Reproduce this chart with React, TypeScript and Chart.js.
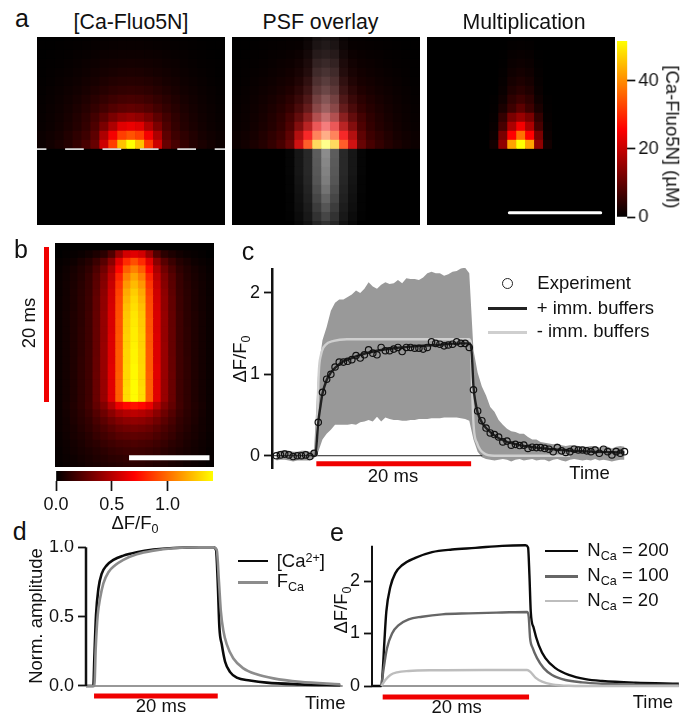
import React, { useEffect, useRef } from "react";
import { Chart, registerables } from "chart.js";

Chart.register(...registerables);
const FONT = '"Liberation Sans", Arial, sans-serif';
Chart.defaults.font.family = FONT;
Chart.defaults.color = "#111";

// ---------- panel a: half rows (centre column first), nearest the membrane line first, in uM
const caHalfRows = [
  [50, 44, 31, 20, 10, 7, 5, 3.5, 2.5, 1.8, 1.2],
  [33, 31, 24, 17, 9, 6, 4.5, 3.2, 2.2, 1.6, 1.1],
  [23, 22, 17, 12, 7.5, 5, 3.5, 2.5, 1.8, 1.2, 0.8],
  [15, 14, 12, 9, 6.5, 4.5, 3.2, 2.3, 1.6, 1.1, 0.7],
  [9.5, 9, 8, 6.5, 5, 3.7, 2.7, 2, 1.4, 1, 0.6],
  [7, 6.7, 6, 5, 4, 3, 2.3, 1.7, 1.2, 0.8, 0.5],
  [5, 4.8, 4.4, 3.7, 3, 2.4, 1.8, 1.4, 1, 0.7, 0.4],
  [3.7, 3.6, 3.3, 2.8, 2.3, 1.9, 1.4, 1.1, 0.8, 0.5, 0.3],
  [2.7, 2.6, 2.4, 2.1, 1.8, 1.4, 1.1, 0.8, 0.6, 0.4, 0.2],
  [2, 1.9, 1.8, 1.6, 1.3, 1.1, 0.8, 0.6, 0.4, 0.3, 0.2],
  [1.3, 1.3, 1.2, 1.1, 0.9, 0.7, 0.6, 0.4, 0.3, 0.2, 0.1],
  [0.9, 0.9, 0.8, 0.7, 0.6, 0.5, 0.4, 0.3, 0.2, 0.1, 0.1],
  [0.5, 0.5, 0.5, 0.4, 0.4, 0.3, 0.2, 0.2, 0.1, 0.1, 0],
];
// PSF grey levels, bottom row of the image first (centre column first)
const psfHalfRows = [
  [50, 38, 18, 8, 0], [70, 50, 24, 11, 2], [85, 60, 28, 14, 3], [100, 70, 32, 16, 3],
  [115, 78, 35, 18, 4], [125, 85, 38, 20, 4], [130, 88, 40, 22, 5], [135, 90, 40, 22, 5],
  [140, 92, 40, 22, 5], [140, 95, 42, 18, 4], [135, 92, 40, 16, 3], [125, 88, 36, 14, 2],
  [110, 80, 32, 12, 2], [95, 72, 28, 10, 1], [85, 65, 24, 8, 1], [70, 56, 20, 6, 0],
  [60, 48, 16, 4, 0], [50, 42, 12, 3, 0], [40, 34, 10, 2, 0], [30, 26, 8, 1, 0],
  [25, 20, 6, 0, 0], [20, 16, 4, 0, 0],
];
const multHalfRows = [
  [50, 41, 14, 1.8], [36, 25, 12, 1.2], [24, 17, 7, 0.8], [15, 12, 5, 0.5],
  [9, 6, 2.5, 0.3], [6, 4.5, 1.5, 0.2], [4, 3, 0.9], [2.8, 2.2, 0.6],
  [2, 1.5, 0.4], [1.3, 1, 0.2], [0.8, 0.6, 0.1], [0.4, 0.3],
  [0.2, 0.1],
];
const caMax = 50;
const caBarMax = 51.7;
const caTicks = [0, 20, 40];
const dashX = [0, 21];
const dashY = [9, 9];
const scaleBarAX = [9.2, 19.4];
const scaleBarAY = [1.96, 1.96];

// ---------- panel b: time rows from top, half rows (centre first), in dF/F0
const bHalfRows = [
  [0, 0, 0, 0, 0, 0, 0, 0, 0, 0, 0],
  [0.62, 0.58, 0.42, 0.22, 0.12, 0.08, 0.05, 0.03, 0.02, 0.01, 0],
  [0.92, 0.82, 0.62, 0.38, 0.24, 0.16, 0.1, 0.07, 0.04, 0.025, 0.015],
  [1.06, 0.96, 0.72, 0.47, 0.31, 0.21, 0.13, 0.09, 0.06, 0.04, 0.02],
  [1.16, 1.05, 0.8, 0.52, 0.35, 0.24, 0.15, 0.1, 0.07, 0.045, 0.025],
  [1.22, 1.12, 0.85, 0.55, 0.37, 0.25, 0.155, 0.11, 0.075, 0.05, 0.027],
  [1.27, 1.17, 0.88, 0.57, 0.39, 0.26, 0.16, 0.115, 0.08, 0.05, 0.028],
  [1.3, 1.2, 0.9, 0.58, 0.4, 0.27, 0.165, 0.12, 0.08, 0.052, 0.03],
  [1.32, 1.23, 0.91, 0.59, 0.4, 0.27, 0.165, 0.12, 0.08, 0.052, 0.03],
  [1.34, 1.25, 0.92, 0.6, 0.41, 0.275, 0.17, 0.12, 0.085, 0.055, 0.03],
  [1.35, 1.26, 0.93, 0.6, 0.41, 0.275, 0.17, 0.12, 0.085, 0.055, 0.03],
  [1.36, 1.27, 0.93, 0.6, 0.41, 0.28, 0.17, 0.125, 0.085, 0.055, 0.03],
  [1.36, 1.28, 0.94, 0.61, 0.41, 0.28, 0.17, 0.125, 0.085, 0.055, 0.03],
  [1.37, 1.28, 0.94, 0.61, 0.42, 0.28, 0.17, 0.125, 0.085, 0.055, 0.03],
  [1.38, 1.29, 0.95, 0.61, 0.42, 0.28, 0.175, 0.125, 0.085, 0.055, 0.03],
  [1.38, 1.29, 0.95, 0.61, 0.42, 0.285, 0.175, 0.13, 0.085, 0.055, 0.03],
  [1.39, 1.3, 0.95, 0.62, 0.42, 0.285, 0.175, 0.13, 0.085, 0.055, 0.03],
  [1.39, 1.3, 0.96, 0.62, 0.42, 0.29, 0.175, 0.13, 0.085, 0.055, 0.03],
  [1.4, 1.3, 0.96, 0.62, 0.42, 0.29, 0.175, 0.13, 0.085, 0.055, 0.03],
  [1.4, 1.31, 0.96, 0.62, 0.42, 0.29, 0.175, 0.13, 0.085, 0.055, 0.03],
  [1.4, 1.31, 0.96, 0.62, 0.42, 0.29, 0.175, 0.13, 0.085, 0.055, 0.03],
  [0.75, 0.72, 0.65, 0.5, 0.36, 0.27, 0.18, 0.13, 0.09, 0.06, 0.03],
  [0.52, 0.5, 0.46, 0.38, 0.3, 0.23, 0.16, 0.12, 0.085, 0.055, 0.03],
  [0.4, 0.39, 0.36, 0.31, 0.25, 0.2, 0.14, 0.11, 0.08, 0.05, 0.03],
  [0.32, 0.31, 0.29, 0.25, 0.21, 0.17, 0.13, 0.1, 0.07, 0.05, 0.03],
  [0.26, 0.25, 0.24, 0.21, 0.18, 0.15, 0.11, 0.085, 0.065, 0.045, 0.025],
  [0.21, 0.2, 0.19, 0.17, 0.15, 0.12, 0.1, 0.075, 0.055, 0.04, 0.025],
  [0.17, 0.165, 0.155, 0.14, 0.12, 0.1, 0.08, 0.065, 0.05, 0.035, 0.02],
  [0.14, 0.135, 0.125, 0.115, 0.1, 0.085, 0.07, 0.055, 0.04, 0.03, 0.02],
  [0.12, 0.115, 0.105, 0.095, 0.085, 0.07, 0.06, 0.045, 0.035, 0.025, 0.015],
];
const bMax = 1.407;
const bTicks = [0, 0.5, 1];
const scaleBarBX = [9.78, 20.4];
const scaleBarBY = [1.67, 1.67];

// ---------- panel c: sample index, experiment mean and band
const expMean = [
  0, 0.01, 0.02, 0.01, -0.01, 0, 0, 0.01, -0.01, 0.03, 0.41, 0.78, 0.94, 1.0, 1.09, 1.15, 1.15, 1.16, 1.18, 1.23,
  1.2, 1.24, 1.3, 1.26, 1.24, 1.33, 1.29, 1.29, 1.31, 1.33, 1.28, 1.33, 1.33, 1.32, 1.32, 1.31, 1.33, 1.4, 1.38, 1.37,
  1.35, 1.36, 1.37, 1.4, 1.38, 1.38, 1.33, 0.81, 0.55, 0.43, 0.34, 0.28, 0.26, 0.23, 0.17, 0.18, 0.13, 0.14, 0.125, 0.13,
  0.09, 0.105, 0.1, 0.1, 0.09, 0.08, 0.05, 0.1, 0.06, 0.04, 0.05, 0.08, 0.07, 0.07, 0.06, 0.05, 0.07, 0.03, 0.08, 0.05,
  0.01, 0.05, 0.03, 0.05,
];
const expUpper = [
  0.05, 0.06, 0.07, 0.06, 0.05, 0.05, 0.06, 0.06, 0.05, 0.07, 1.05, 1.42, 1.58, 1.78, 1.88, 1.92, 1.92, 1.95, 1.98, 2.03,
  2.0, 2.05, 2.13, 2.08, 2.05, 2.1, 2.13, 2.11, 2.12, 2.16, 2.12, 2.18, 2.17, 2.17, 2.16, 2.19, 2.24, 2.26, 2.24, 2.24,
  2.21, 2.23, 2.26, 2.27, 2.3, 2.31, 2.24, 1.3, 1.02, 0.85, 0.74, 0.6, 0.54, 0.44, 0.38, 0.33, 0.3, 0.29, 0.27, 0.27,
  0.23, 0.2, 0.2, 0.17, 0.16, 0.15, 0.14, 0.15, 0.13, 0.12, 0.13, 0.13, 0.12, 0.11, 0.11, 0.12, 0.12, 0.1, 0.12, 0.11,
  0.09, 0.11, 0.12, 0.11,
];
const expLower = [
  -0.06, -0.05, -0.05, -0.06, -0.07, -0.06, -0.06, -0.06, -0.06, -0.03, 0.05, 0.2, 0.27, 0.32, 0.38, 0.38, 0.38, 0.38, 0.39, 0.38,
  0.41, 0.42, 0.44, 0.42, 0.48, 0.42, 0.47, 0.45, 0.44, 0.44, 0.43, 0.43, 0.44, 0.44, 0.45, 0.45, 0.45, 0.46, 0.46, 0.46,
  0.47, 0.47, 0.47, 0.47, 0.46, 0.45, 0.43, 0.2, 0.05, -0.02, -0.04, -0.05, -0.06, -0.05, -0.04, -0.05, -0.07, -0.05, -0.04, -0.06,
  -0.05, -0.04, -0.06, -0.05, -0.05, -0.07, -0.05, -0.04, -0.06, -0.07, -0.05, -0.04, -0.05, -0.06, -0.05, -0.06, -0.04, -0.06, -0.05, -0.06,
  -0.07, -0.06, -0.05, -0.05,
];
const immX = [9.4, 10, 10.5, 11, 12, 13, 14, 16, 18, 20, 24, 28, 32, 38, 44, 46.2, 46.6, 47, 47.5, 48, 49, 50, 52, 54, 58, 62, 68, 75, 83];
const immY = [0, 0.41, 0.6, 0.76, 0.93, 1.02, 1.08, 1.16, 1.2, 1.24, 1.29, 1.32, 1.34, 1.36, 1.38, 1.38, 1.25, 0.85, 0.65, 0.53, 0.41, 0.34, 0.25, 0.19, 0.13, 0.1, 0.07, 0.05, 0.04];
const noImmX = [9.54, 10.1, 10.65, 11.7, 13.7, 16.85, 45.9, 46.4, 46.7, 47.05, 47.9, 49.5, 51.9, 60, 70];
const noImmY = [0, 1.0, 1.24, 1.36, 1.41, 1.43, 1.43, 1.38, 0.8, 0.36, 0.15, 0.03, 0, 0, 0];
const cTicks = [0, 1, 2];
const cStimX = [9.54, 46.44];
const cStimY = [-0.098, -0.098];
const cZeroX = [-1.03, 49.1];
const cZeroY = [0, 0];

// ---------- panel d: time in ms
const caTimeD = [-1.3, -0.11, 0.05, 0.32, 0.7, 1.24, 2.05, 3.13, 4.74, 6.9, 9.6, 12.83, 17.14, 19.3, 19.73, 20.0, 20.27, 20.65, 21.19, 22.0, 23.07, 25.2, 27.9, 33.3, 39.8];
const caValD = [0, 0, 0.2, 0.51, 0.7, 0.81, 0.87, 0.91, 0.94, 0.964, 0.983, 0.995, 1, 1, 0.98, 0.75, 0.42, 0.3, 0.175, 0.1, 0.06, 0.04, 0.024, 0.012, 0.005];
const fTimeD = [-1.3, 0.05, 0.27, 0.59, 0.97, 1.51, 2.32, 3.4, 4.74, 6.9, 9.6, 12.83, 17.14, 19.3, 19.84, 20.2, 20.5, 20.9, 21.46, 22.5, 24.15, 26.3, 29, 33.3, 39.8];
const fValD = [0, 0, 0.27, 0.51, 0.63, 0.74, 0.82, 0.87, 0.91, 0.95, 0.976, 0.993, 1, 1, 0.98, 0.75, 0.54, 0.4, 0.3, 0.2, 0.127, 0.084, 0.055, 0.03, 0.012];
const dTicks = [0, 0.5, 1];
const dStimX = [0, 20];
const dStimY = [-0.0721, -0.0721];

// ---------- panel e: time in ms
const n200T = [-1.46, -0.18, 0, 0.23, 0.5, 1.05, 1.73, 2.64, 4.46, 6.74, 9.48, 12.66, 16.31, 19.5, 19.86, 20.05, 20.23, 20.64, 21.32, 22.23, 23.6, 25.42, 27.7, 29.98, 34.53, 40.46];
const n200V = [0, 0, 0.27, 0.84, 1.42, 1.89, 2.15, 2.3, 2.44, 2.55, 2.6, 2.63, 2.67, 2.68, 2.64, 2.11, 1.42, 1.1, 0.78, 0.53, 0.34, 0.21, 0.13, 0.095, 0.063, 0.044];
const n100T = [-0.18, 0.14, 0.59, 1.28, 2.19, 3.55, 5.38, 8.11, 11.75, 16.31, 19.73, 19.95, 20.14, 20.5, 21.09, 22, 23.14, 24.97, 27.24, 29.98, 34.53, 40.46];
const n100V = [0, 0.34, 0.72, 1.0, 1.16, 1.27, 1.32, 1.365, 1.384, 1.4, 1.41, 1.32, 0.91, 0.72, 0.53, 0.34, 0.21, 0.114, 0.07, 0.044, 0.025, 0.019];
const n20T = [-0.18, 0.36, 1.05, 1.96, 3.55, 7.2, 14.03, 19.73, 20.18, 20.87, 21.78, 23.14, 25.42, 29.98, 40.46];
const n20V = [0, 0.114, 0.21, 0.26, 0.286, 0.3, 0.305, 0.305, 0.27, 0.16, 0.083, 0.032, 0.006, 0, 0];
const eTicks = [0, 1, 2];
const eStimX = [0, 20];
const eStimY = [-0.2095, -0.2095];

// ---------- helpers
const RED = "#f00000";
const mirror = (half: number[], n = 21) => {
  const full = [...half];
  while (full.length < 11) full.push(0);
  return [...full.slice(1).reverse(), ...full].slice(0, n);
};
const zip = (xs: number[], ys: number[]) => xs.map((x, i) => ({ x, y: ys[i] }));
const hotRGB = (t: number) => {
  const v = Math.max(0, Math.min(1, t));
  return v < 0.5 ? [510 * v, 0, 0] : [255, 510 * (v - 0.5), 0];
};
const css = (c: number[]) => `rgb(${c.map((v) => Math.round(v)).join(",")})`;
const blank = Array.from({ length: 21 }, () => 0);
const caRows = [...Array(9).fill(blank), ...caHalfRows.map((r) => mirror(r))];
const psfRows = psfHalfRows.map((r) => mirror(r));
const multRows = [...Array(9).fill(blank), ...multHalfRows.map((r) => mirror(r))];

const caColors = caRows.map((r) => r.map((v: number) => css(hotRGB(v / caMax))));
const overlayColors = caRows.map((r, ri) =>
  r.map((v: number, ci: number) => {
    const g = psfRows[ri][ci];
    return css(hotRGB(v / caMax).map((c) => 255 - ((255 - c) * (255 - g)) / 255));
  })
);
const multColors = multRows.map((r) => r.map((v: number) => css(hotRGB(v / caMax))));
const bColors = [...bHalfRows].reverse().map((r) => mirror(r).map((v) => css(hotRGB(v / bMax))));

const basePlugins = { legend: { display: false }, tooltip: { enabled: false } };
const noLabelPadding = (s: any) => {
  s.paddingTop = 0;
  s.paddingBottom = 0;
  s.paddingLeft = 0;
  s.paddingRight = 0;
};

function heatConfig(colors: string[][], yMin: number, yMax: number) {
  const labels = colors[0].map((_, i) => String(i));
  return {
    type: "bar",
    data: {
      labels,
      datasets: colors.map((row) => ({
        data: row.map(() => 1),
        backgroundColor: row,
        borderWidth: 0,
        barPercentage: 1,
        categoryPercentage: 1,
      })),
    },
    options: {
      responsive: false,
      animation: false,
      events: [],
      layout: { padding: 0, autoPadding: false },
      plugins: basePlugins,
      scales: {
        x: { stacked: true, display: false },
        y: { stacked: true, display: false, min: yMin, max: yMax },
      },
    },
  };
}

function overlayConfig(lines: any[], yMin: number, yMax: number) {
  return {
    type: "line",
    data: {
      datasets: lines.map((l) => ({
        data: zip(l.x, l.y),
        borderColor: l.color,
        borderWidth: l.width,
        borderDash: l.dash,
        borderDashOffset: l.offset,
        borderCapStyle: l.cap || "butt",
        pointRadius: 0,
      })),
    },
    options: {
      responsive: false,
      animation: false,
      events: [],
      layout: { padding: 0, autoPadding: false },
      plugins: basePlugins,
      scales: {
        x: { type: "linear", display: false, min: 0, max: 21 },
        y: { type: "linear", display: false, min: yMin, max: yMax },
      },
    },
  };
}

function colorbarConfig(horizontal: boolean, max: number, ticks: number[], fmt: (v: number) => string) {
  const valueScale: any = {
    type: "linear",
    min: 0,
    max,
    position: horizontal ? "bottom" : "right",
    afterBuildTicks: (s: any) => {
      s.ticks = ticks.map((value) => ({ value }));
    },
    afterFit: (s: any) => {
      noLabelPadding(s);
      if (horizontal) s.height = 38;
      else s.width = 50;
    },
    grid: { drawOnChartArea: false, tickLength: horizontal ? 10 : 8, tickColor: "#111", tickWidth: 1.7 },
    border: { display: false },
    ticks: { font: { size: 18 }, color: "#111", padding: 3, maxRotation: 0, callback: (v: any) => fmt(Number(v)) },
  };
  return {
    type: "bar",
    data: {
      labels: [""],
      datasets: [
        {
          data: [max],
          barPercentage: 1,
          categoryPercentage: 1,
          borderWidth: 0,
          backgroundColor: (ctx: any) => {
            const { chart } = ctx;
            const a = chart.chartArea;
            if (!a) return "#000";
            const g = horizontal
              ? chart.ctx.createLinearGradient(a.left, 0, a.right, 0)
              : chart.ctx.createLinearGradient(0, a.bottom, 0, a.top);
            g.addColorStop(0, "#000");
            g.addColorStop(0.5, "#ff0000");
            g.addColorStop(1, "#ffff00");
            return g;
          },
        },
      ],
    },
    options: {
      responsive: false,
      animation: false,
      events: [],
      indexAxis: horizontal ? "y" : "x",
      layout: {
        autoPadding: false,
        padding: horizontal ? { left: 20, right: 13 } : { top: 10, bottom: 10 },
      },
      plugins: basePlugins,
      scales: horizontal
        ? { x: valueScale, y: { display: false } }
        : { y: valueScale, x: { display: false } },
    },
  };
}

const lineDs = (pts: any[], color: string, width: number, smooth = true, extra: any = {}) => ({
  type: "line",
  data: pts,
  borderColor: color,
  borderWidth: width,
  pointRadius: 0,
  fill: false,
  cubicInterpolationMode: smooth ? "monotone" : "default",
  borderCapStyle: "butt",
  clip: false,
  ...extra,
});

function axisConfig(datasets: any[], x: [number, number], y: [number, number], ticks: number[], axisWidth: number, fmt: (v: number) => string, border: boolean) {
  return {
    type: "line",
    data: { datasets },
    options: {
      responsive: false,
      animation: false,
      events: [],
      layout: { padding: 0, autoPadding: false },
      plugins: basePlugins,
      scales: {
        x: { type: "linear", display: false, min: x[0], max: x[1] },
        y: {
          type: "linear",
          min: y[0],
          max: y[1],
          position: "left",
          afterBuildTicks: (s: any) => {
            s.ticks = ticks.map((value) => ({ value }));
          },
          afterFit: (s: any) => {
            noLabelPadding(s);
            s.width = axisWidth;
          },
          grid: { drawOnChartArea: false, tickLength: 8, tickColor: "#111", tickWidth: 1.8 },
          border: border ? { display: true, color: "#111", width: 2.5 } : { display: false },
          ticks: { font: { size: 18 }, color: "#111", padding: 4, callback: (v: any) => fmt(Number(v)) },
        },
      },
    },
  };
}

const sampleX = expMean.map((_, i) => i);

const configA1 = heatConfig(caColors, 0.59, 21.44);
const overlayA1 = overlayConfig(
  [{ x: dashX, y: dashY, color: "#d8d8d8", width: 1.6, dash: [18.7, 18.7], offset: 9.3 }],
  0.59,
  21.44
);
const configA2 = heatConfig(overlayColors, 0.59, 21.44);
const configA3 = heatConfig(multColors, 0.59, 21.44);
const overlayA3 = overlayConfig([{ x: scaleBarAX, y: scaleBarAY, color: "#fff", width: 3, cap: "round" }], 0.59, 21.44);
const configCbA = colorbarConfig(false, caBarMax, caTicks, (v) => String(v));
const configB = heatConfig(bColors, 0.45, 30);
const overlayB = overlayConfig([{ x: scaleBarBX, y: scaleBarBY, color: "#fff", width: 5 }], 0.45, 30);
const configCbB = colorbarConfig(true, bMax, bTicks, (v) => v.toFixed(1));

const configC = axisConfig(
  [
    {
      type: "line",
      data: zip(sampleX, expMean),
      showLine: false,
      pointRadius: 3.2,
      pointBorderWidth: 1.2,
      pointBorderColor: "#111",
      pointBackgroundColor: "rgba(0,0,0,0)",
      clip: false,
    },
    lineDs(zip(immX, immY), "#222", 2.4),
    lineDs(zip(noImmX, noImmY), "#cfcfcf", 2.4),
    lineDs(zip(cZeroX, cZeroY), "#222", 1, false),
    lineDs(zip(cStimX, cStimY), RED, 5, false),
    lineDs(zip(sampleX, expUpper), "rgba(0,0,0,0)", 0, false, { fill: "+1", backgroundColor: "#999999", clip: true }),
    lineDs(zip(sampleX, expLower), "rgba(0,0,0,0)", 0, false, { clip: true }),
  ],
  [-1.03, 86.7],
  [-0.163, 2.306],
  cTicks,
  42,
  (v) => String(v),
  true
);

const dAxisX = [-1.3, -1.3];
const dAxisY = [0, 1];
const dZeroX = [-1.3, 40.2];
const dZeroY = [0, 0];
const configD = axisConfig(
  [
    lineDs(zip(dAxisX, dAxisY), "#111", 2.5, false),
    lineDs(zip(fTimeD, fValD), "#8c8c8c", 2.6),
    lineDs(zip(caTimeD, caValD), "#0a0a0a", 2.6),
    lineDs(zip(dZeroX, dZeroY), "#333", 1.2, false),
    lineDs(zip(dStimX, dStimY), RED, 5, false),
  ],
  [-1.3, 40.25],
  [-0.1154, 1.0526],
  dTicks,
  50,
  (v) => v.toFixed(1),
  false
);

const eAxisX = [-1.46, -1.46];
const eAxisY = [0, 2.67];
const eZeroX = [-1.46, 40.46];
const eZeroY = [0, 0];
const configE = axisConfig(
  [
    lineDs(zip(eAxisX, eAxisY), "#111", 2, false),
    lineDs(zip(n20T, n20V), "#bdbdbd", 2.4),
    lineDs(zip(n100T, n100V), "#666666", 2.4),
    lineDs(zip(n200T, n200V), "#0a0a0a", 2.4),
    lineDs(zip(eZeroX, eZeroY), "#333", 1.2, false),
    lineDs(zip(eStimX, eStimY), RED, 5, false),
  ],
  [-1.46, 41.03],
  [-0.3238, 2.781],
  eTicks,
  32,
  (v) => String(v),
  false
);

function Panel({ left, top, width, height, config, bg }: any) {
  const ref = useRef<HTMLCanvasElement>(null);
  useEffect(() => {
    const chart = new Chart(ref.current as any, config);
    return () => chart.destroy();
  }, [config]);
  return (
    <canvas
      ref={ref}
      width={width}
      height={height}
      style={{ position: "absolute", left, top, width, height, background: bg, display: "block" }}
    />
  );
}

const Sub = ({ children }: any) => (
  <span style={{ fontSize: "0.68em", position: "relative", top: "0.3em", lineHeight: 0 }}>{children}</span>
);
const Sup = ({ children }: any) => (
  <span style={{ fontSize: "0.68em", position: "relative", top: "-0.45em", lineHeight: 0 }}>{children}</span>
);

// x: left edge (or centre with center), b: baseline
function T({ x, b, size = 18.5, center, children }: any) {
  return (
    <div
      style={{
        position: "absolute",
        left: x,
        top: b - 0.8465 * size,
        fontSize: size,
        lineHeight: `${size}px`,
        whiteSpace: "nowrap",
        color: "#111",
        transform: center ? "translateX(-50%)" : undefined,
      }}
    >
      {children}
    </div>
  );
}
function R({ cx, cy, angle, size = 18.5, children }: any) {
  return (
    <div
      style={{
        position: "absolute",
        left: cx,
        top: cy,
        fontSize: size,
        lineHeight: `${size}px`,
        whiteSpace: "nowrap",
        color: "#111",
        transform: `translate(-50%,-50%) rotate(${angle}deg)`,
      }}
    >
      {children}
    </div>
  );
}
const Glyph = ({ x, y, w, h, c }: any) => (
  <div style={{ position: "absolute", left: x, top: y - h / 2, width: w, height: h, background: c }} />
);

export default function App() {
  const dfLabel = (
    <>
      ΔF/F<Sub>0</Sub>
    </>
  );
  return (
    <div
      style={{ position: "absolute", left: 0, top: 0, width: 683, height: 717, background: "#fff", overflow: "hidden", fontFamily: FONT, filter: "blur(0.35px)" }}
    >
      <Panel left={37} top={37} width={188} height={188} config={configA1} bg="#000" />
      <Panel left={37} top={37} width={188} height={188} config={overlayA1} />
      <Panel left={232} top={37} width={188} height={188} config={configA2} bg="#000" />
      <Panel left={427} top={37} width={188} height={188} config={configA3} bg="#000" />
      <Panel left={427} top={37} width={188} height={188} config={overlayA3} />
      <Panel left={617} top={31} width={60.5} height={196} config={configCbA} />
      <Panel left={55} top={243} width={159} height={224} config={configB} bg="#000" />
      <Panel left={55} top={243} width={159} height={224} config={overlayB} />
      <Panel left={36} top={471} width={190} height={48} config={configCbB} />
      <Panel left={230} top={268} width={410} height={201} config={configC} />
      <Panel left={36} top={540} width={307} height={162} config={configD} />
      <Panel left={340} top={540} width={343} height={163} config={configE} />

      <T x={15} b={26.7} size={25}>a</T>
      <T x={14} b={258} size={25}>b</T>
      <T x={241.7} b={260} size={25}>c</T>
      <T x={12.7} b={540} size={25}>d</T>
      <T x={330} b={541} size={25}>e</T>

      <T x={131} b={30} size={21.3} center>[Ca-Fluo5N]</T>
      <T x={320.5} b={30} size={21.3} center>PSF overlay</T>
      <T x={524} b={30} size={21.3} center>Multiplication</T>
      <R cx={671.7} cy={137} angle={90}>[Ca-Fluo5N] (µM)</R>

      <Glyph x={44.3} y={324.6} w={5} h={154.7} c={RED} />
      <R cx={29} cy={323} angle={-90}>20 ms</R>
      <T x={135} b={530} center>{dfLabel}</T>

      <R cx={240} cy={359} angle={-90}>{dfLabel}</R>
      <T x={393} b={483} center>20 ms</T>
      <T x={569.3} b={480}>Time</T>
      <div
        style={{ position: "absolute", left: 501.7, top: 278, width: 9, height: 9, border: "1.6px solid #222", borderRadius: "50%" }}
      />
      <T x={537.3} b={290}>Experiment</T>
      <Glyph x={488} y={308.7} w={39} h={2.5} c="#222" />
      <T x={536.7} b={315}>+ imm. buffers</T>
      <Glyph x={488} y={332.3} w={39} h={2.5} c="#cfcfcf" />
      <T x={536.7} b={338}>- imm. buffers</T>

      <R cx={36} cy={616} angle={-90}>Norm. amplitude</R>
      <Glyph x={237.7} y={561} w={30.6} h={2.6} c="#0a0a0a" />
      <Glyph x={237.7} y={582.7} w={30.6} h={2.6} c="#8c8c8c" />
      <T x={276.7} b={568}>
        [Ca<Sup>2+</Sup>]
      </T>
      <T x={276.7} b={587.7}>
        F<Sub>Ca</Sub>
      </T>
      <T x={161} b={713} center>20 ms</T>
      <T x={305} b={710}>Time</T>

      <R cx={341} cy={610} angle={-90}>{dfLabel}</R>
      <Glyph x={545} y={551} w={33.3} h={2.6} c="#0a0a0a" />
      <Glyph x={545} y={576.3} w={33.3} h={2.6} c="#666666" />
      <Glyph x={545} y={601} w={33.3} h={2.6} c="#bdbdbd" />
      <T x={587.3} b={556.7}>
        N<Sub>Ca</Sub> = 200
      </T>
      <T x={587.3} b={581.7}>
        N<Sub>Ca</Sub> = 100
      </T>
      <T x={587.3} b={606.7}>
        N<Sub>Ca</Sub> = 20
      </T>
      <T x={456.7} b={714} center>20 ms</T>
      <T x={632.7} b={709}>Time</T>
    </div>
  );
}
